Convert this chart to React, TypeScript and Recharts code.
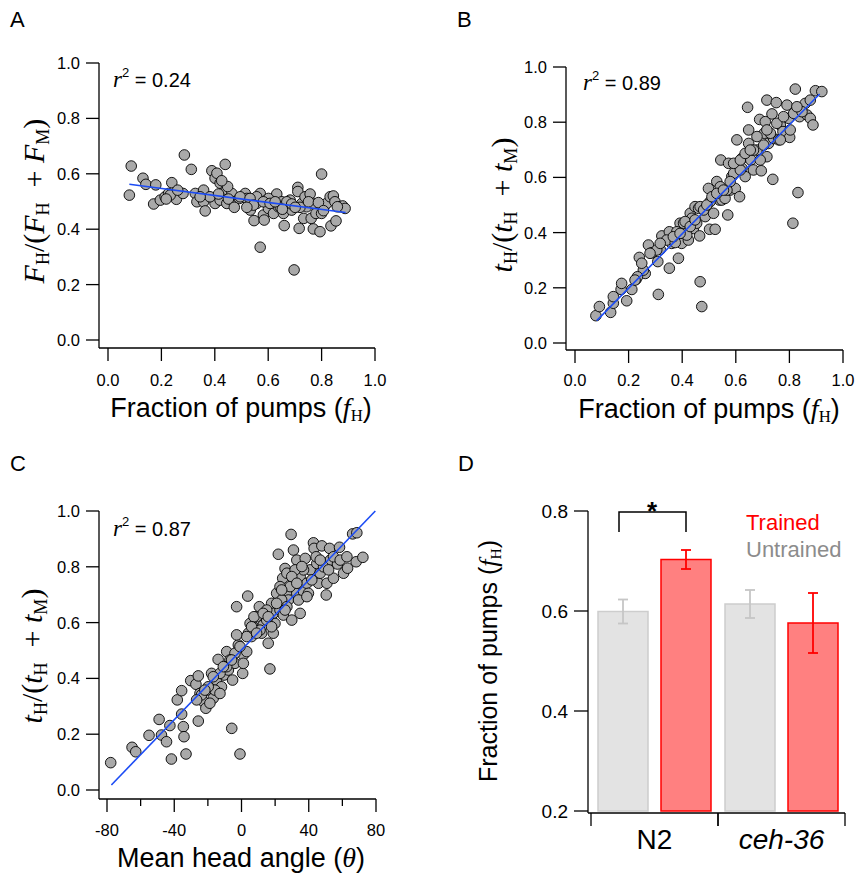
import { ScatterChart, Scatter, XAxis, YAxis, BarChart, Bar, ErrorBar } from "recharts";

const SANS = '"Liberation Sans", Arial, Helvetica, sans-serif';
const SERIF = '"Liberation Serif", "Times New Roman", serif';
const BLUE = "#1c4cf5";
const LW = 1.3;

// ticks
const fracTicks = [0, 0.2, 0.4, 0.6, 0.8, 1.0];
const angleTicks = [-80, -60, -40, -20, 0, 20, 40, 60, 80];
const angleLabels = [-80, -40, 0, 40, 80];
const barTicks = [0.2, 0.4, 0.6, 0.8];

// A: force fraction vs fraction of pumps
const aPumps = [0.087, 0.080, 0.131, 0.142, 0.171, 0.179, 0.196, 0.214, 0.227, 0.239,
  0.256, 0.233, 0.281, 0.286, 0.312, 0.327, 0.333, 0.358, 0.358, 0.364,
  0.389, 0.401, 0.408, 0.420, 0.439, 0.443, 0.401, 0.382, 0.420, 0.445,
  0.464, 0.470, 0.492, 0.514, 0.520, 0.533, 0.547, 0.557, 0.570, 0.570,
  0.582, 0.585, 0.595, 0.601, 0.620, 0.632, 0.638, 0.651, 0.657, 0.660,
  0.670, 0.682, 0.688, 0.697, 0.711, 0.711, 0.716, 0.726, 0.733, 0.738,
  0.744, 0.757, 0.761, 0.769, 0.769, 0.779, 0.794, 0.800, 0.800, 0.813,
  0.819, 0.832, 0.835, 0.844, 0.850, 0.854, 0.869, 0.879, 0.888, 0.557,
  0.601, 0.495, 0.532, 0.545, 0.582, 0.607, 0.645, 0.670, 0.688, 0.719,
  0.751, 0.788, 0.807, 0.859, 0.261, 0.218, 0.345, 0.414, 0.451, 0.473,
  0.520, 0.448, 0.426, 0.626, 0.653, 0.701];
const aForce = [0.628, 0.523, 0.584, 0.562, 0.491, 0.560, 0.505, 0.517, 0.529, 0.568,
  0.508, 0.523, 0.529, 0.668, 0.616, 0.529, 0.499, 0.541, 0.499, 0.466,
  0.611, 0.584, 0.602, 0.566, 0.634, 0.544, 0.493, 0.517, 0.505, 0.493,
  0.529, 0.499, 0.511, 0.529, 0.511, 0.469, 0.431, 0.493, 0.529, 0.335,
  0.451, 0.433, 0.505, 0.475, 0.457, 0.527, 0.481, 0.499, 0.457, 0.413,
  0.481, 0.505, 0.469, 0.253, 0.551, 0.536, 0.403, 0.493, 0.439, 0.517,
  0.481, 0.527, 0.439, 0.401, 0.493, 0.457, 0.391, 0.599, 0.457, 0.487,
  0.493, 0.517, 0.412, 0.520, 0.499, 0.430, 0.481, 0.484, 0.475, 0.517,
  0.511, 0.517, 0.511, 0.487, 0.499, 0.493, 0.481, 0.499, 0.491, 0.479,
  0.499, 0.496, 0.467, 0.481, 0.541, 0.509, 0.517, 0.527, 0.509, 0.479,
  0.479, 0.554, 0.575, 0.499, 0.472, 0.479];
const aFitX = [0.08, 0.89];
const aFitY = [0.562, 0.460];

// B: time fraction vs fraction of pumps
const bPumps = [0.078, 0.091, 0.133, 0.143, 0.172, 0.193, 0.212, 0.228, 0.240, 0.262,
  0.274, 0.287, 0.309, 0.311, 0.324, 0.318, 0.352, 0.352, 0.361, 0.386,
  0.392, 0.398, 0.411, 0.423, 0.430, 0.442, 0.448, 0.465, 0.467, 0.473,
  0.461, 0.486, 0.502, 0.498, 0.517, 0.523, 0.529, 0.539, 0.544, 0.548,
  0.560, 0.570, 0.573, 0.579, 0.585, 0.598, 0.614, 0.604, 0.623, 0.623,
  0.635, 0.644, 0.648, 0.648, 0.656, 0.666, 0.679, 0.689, 0.695, 0.706,
  0.710, 0.716, 0.716, 0.722, 0.735, 0.738, 0.741, 0.751, 0.760, 0.766,
  0.776, 0.791, 0.797, 0.801, 0.803, 0.813, 0.822, 0.832, 0.834, 0.838,
  0.859, 0.866, 0.878, 0.888, 0.897, 0.921, 0.467, 0.436, 0.405, 0.380,
  0.342, 0.305, 0.255, 0.233, 0.224, 0.504, 0.592, 0.617, 0.666, 0.691,
  0.729, 0.766, 0.816, 0.847, 0.878, 0.374, 0.417, 0.454, 0.567, 0.542,
  0.367, 0.392, 0.411, 0.430, 0.448, 0.480, 0.492, 0.511, 0.529, 0.554,
  0.579, 0.592, 0.617, 0.635, 0.654, 0.679, 0.704, 0.716, 0.753, 0.778,
  0.828, 0.249, 0.280, 0.318, 0.174, 0.143];
const bTime = [0.099, 0.132, 0.111, 0.144, 0.194, 0.153, 0.194, 0.231, 0.310, 0.252,
  0.355, 0.327, 0.295, 0.176, 0.388, 0.339, 0.403, 0.271, 0.361, 0.307,
  0.434, 0.361, 0.409, 0.373, 0.470, 0.415, 0.494, 0.388, 0.222, 0.132,
  0.488, 0.458, 0.412, 0.560, 0.470, 0.412, 0.585, 0.518, 0.663, 0.518,
  0.524, 0.464, 0.651, 0.554, 0.603, 0.560, 0.530, 0.736, 0.669, 0.633,
  0.603, 0.854, 0.723, 0.772, 0.663, 0.627, 0.699, 0.810, 0.624, 0.760,
  0.802, 0.675, 0.880, 0.723, 0.830, 0.593, 0.741, 0.871, 0.736, 0.790,
  0.766, 0.862, 0.814, 0.745, 0.772, 0.434, 0.920, 0.545, 0.850, 0.820,
  0.868, 0.826, 0.814, 0.790, 0.914, 0.911, 0.494, 0.452, 0.434, 0.403,
  0.373, 0.337, 0.264, 0.240, 0.228, 0.512, 0.615, 0.627, 0.699, 0.663,
  0.760, 0.736, 0.832, 0.838, 0.880, 0.364, 0.391, 0.434, 0.554, 0.566,
  0.385, 0.397, 0.440, 0.422, 0.446, 0.482, 0.500, 0.530, 0.542, 0.554,
  0.585, 0.651, 0.663, 0.687, 0.699, 0.748, 0.717, 0.772, 0.796, 0.820,
  0.856, 0.289, 0.325, 0.361, 0.216, 0.168];
const bFitX = [0.081, 0.913];
const bFitY = [0.081, 0.902];

// C: time fraction vs mean head angle
const cAngle = [-77.8, -65.1, -62.9, -55.0, -49.0, -47.6, -44.6, -42.6, -41.7, -38.2,
  -35.6, -35.6, -34.6, -34.2, -33.0, -30.2, -27.1, -25.7, -25.7, -24.7,
  -22.7, -21.2, -20.8, -17.8, -16.8, -14.9, -13.9, -11.9, -10.4, -8.8,
  -7.8, -5.8, -5.3, -3.9, -2.9, -1.9, -0.9, 0.7, 1.1, 3.1,
  3.7, 4.1, 5.1, 7.0, 9.0, 10.6, 12.0, 12.9, 15.9, 16.9,
  17.9, 18.9, 19.9, 20.9, 21.9, 22.9, 24.5, 24.9, 25.9, 27.0,
  27.9, 29.5, 29.9, 30.9, 31.3, 32.9, 32.9, 34.9, 34.9, 36.9,
  37.9, 38.9, 40.8, 42.8, 43.2, 45.8, 46.8, 47.8, 50.4, 50.8,
  52.4, 52.8, 54.7, 57.1, 58.3, 60.7, 63.1, 66.1, 68.6, 68.2,
  72.2, 6.0, 11.0, 15.0, 18.9, 23.9, 27.0, 28.9, 33.9, 36.9,
  39.8, 44.8, 48.8, 54.7, 1.1, -3.9, -6.9, -12.8, -15.8, -19.8,
  -23.8, -18.8, -12.8, -8.8, 7.4, 15.0, 22.9, 27.0, 31.9,
  3.1, 6.0, 9.0, 12.9, 15.9, 17.9, 20.9, 23.9, 25.9, 29.9,
  32.9, 35.9, 38.9, 41.8, 44.4, 46.8, 51.8, 58.7, 62.7, -5.9,
  -10.8, -16.8, -21.8, -26.7, -0.9, -2.9];
const cTime = [0.098, 0.153, 0.137, 0.196, 0.253, 0.197, 0.173, 0.231, 0.111, 0.323,
  0.356, 0.272, 0.227, 0.191, 0.129, 0.392, 0.379, 0.409, 0.247, 0.346,
  0.317, 0.293, 0.358, 0.418, 0.329, 0.394, 0.468, 0.370, 0.412, 0.496,
  0.430, 0.221, 0.394, 0.454, 0.657, 0.520, 0.129, 0.418, 0.484, 0.496,
  0.695, 0.562, 0.597, 0.585, 0.621, 0.657, 0.562, 0.591, 0.526, 0.434,
  0.669, 0.633, 0.597, 0.705, 0.845, 0.645, 0.759, 0.627, 0.794, 0.711,
  0.681, 0.916, 0.609, 0.860, 0.753, 0.824, 0.705, 0.633, 0.765, 0.711,
  0.830, 0.741, 0.789, 0.886, 0.866, 0.741, 0.777, 0.875, 0.699, 0.741,
  0.866, 0.824, 0.759, 0.810, 0.870, 0.777, 0.795, 0.918, 0.922, 0.818,
  0.834, 0.550, 0.573, 0.609, 0.562, 0.681, 0.657, 0.729, 0.681, 0.789,
  0.705, 0.812, 0.800, 0.836, 0.454, 0.490, 0.466, 0.418, 0.358, 0.370,
  0.341, 0.311, 0.346, 0.442, 0.621, 0.645, 0.729, 0.777, 0.789,
  0.550, 0.585, 0.562, 0.633, 0.621, 0.585, 0.669, 0.717, 0.645, 0.765,
  0.741, 0.801, 0.693, 0.753, 0.836, 0.824, 0.789, 0.824, 0.836, 0.466,
  0.442, 0.406, 0.358, 0.323, 0.514, 0.556];
const cFitX = [-77.4, 79.6];
const cFitY = [0.018, 1.0];

// D: fraction of pumps by strain
const strains = ["N2", "ceh-36"];
const untrained = [0.599, 0.614];
const untrainedSem = [0.024, 0.028];
const trained = [0.703, 0.576];
const trainedSem = [0.019, 0.060];

const zip = (xs: number[], ys: number[]) => xs.map((x, i) => ({ x, y: ys[i] }));

const Dot = (p: any) => (
  <circle cx={p.cx} cy={p.cy} r={5.3} fill="#a9a9a9" stroke="#000" strokeWidth={0.9} />
);
const NoDot = () => <g />;

const bottomTick = (gap: number, fmt: (v: number) => string, major: (v: number) => boolean = () => true) =>
  (p: any) => {
    const v = p.payload.value;
    const big = major(v);
    return (
      <g>
        <line x1={p.x} x2={p.x} y1={p.y} y2={p.y + (big ? 13 : 7)} stroke="#000" strokeWidth={LW} />
        {big && (
          <text x={p.x} y={p.y + gap} textAnchor="middle" fontSize={16.5} fontFamily={SANS} fill="#000">
            {fmt(v)}
          </text>
        )}
      </g>
    );
  };

const leftTick = (fs: number, len = 13) => (p: any) => (
  <g>
    <line x1={p.x - len} x2={p.x} y1={p.y} y2={p.y} stroke="#000" strokeWidth={LW} />
    <text x={p.x - len - 6} y={p.y + fs * 0.36} textAnchor="end" fontSize={fs} fontFamily={SANS} fill="#000">
      {p.payload.value.toFixed(1)}
    </text>
  </g>
);

const StrainTick = (p: any) => {
  const half = 63.5;
  const name = p.payload.value;
  return (
    <g>
      <line x1={p.x - half} x2={p.x - half} y1={p.y} y2={p.y + 13} stroke="#000" strokeWidth={LW} />
      <line x1={p.x + half} x2={p.x + half} y1={p.y} y2={p.y + 13} stroke="#000" strokeWidth={LW} />
      <text x={p.x} y={p.y + 36} textAnchor="middle" fontSize={28} fontFamily={SANS}
        fontStyle={name === "N2" ? "normal" : "italic"} fill="#000">
        {name}
      </text>
    </g>
  );
};

const axisLine = { stroke: "#000", strokeWidth: LW };
const fmt1 = (v: number) => v.toFixed(1);

function FracScatter(props: {
  left: number; top: number; width: number; height: number; margin: any;
  yWidth: number; xPad: number; yPad: number;
  xs: number[]; ys: number[]; fitX: number[]; fitY: number[];
  xDomain: number[]; xTicks: number[]; xGap: number; xFmt: (v: number) => string; xMajor?: (v: number) => boolean;
}) {
  return (
    <div style={{ position: "absolute", left: props.left, top: props.top }}>
      <ScatterChart width={props.width} height={props.height} margin={props.margin}>
        <XAxis type="number" dataKey="x" domain={props.xDomain} ticks={props.xTicks} interval={0}
          padding={{ left: props.xPad, right: 0 }} height={40} tickLine={false} tickSize={0} tickMargin={0}
          axisLine={axisLine} tick={bottomTick(props.xGap, props.xFmt, props.xMajor)} />
        <YAxis type="number" dataKey="y" domain={[0, 1]} ticks={fracTicks} interval={0}
          padding={{ top: 0, bottom: props.yPad }} width={props.yWidth} tickLine={false} tickSize={0} tickMargin={0}
          axisLine={axisLine} tick={leftTick(16.5)} />
        <Scatter data={zip(props.xs, props.ys)} shape={Dot} isAnimationActive={false} />
        <Scatter data={zip(props.fitX, props.fitY)} shape={NoDot} line={{ stroke: BLUE, strokeWidth: 1.6 }}
          isAnimationActive={false} />
      </ScatterChart>
    </div>
  );
}

function Ratio({ x, y, v }: { x: number; y: number; v: string }) {
  return (
    <text transform={`translate(${x},${y}) rotate(-90)`} textAnchor="middle" fontFamily={SERIF} fontSize={30} fill="#000">
      <tspan fontStyle="italic">{v}</tspan>
      <tspan fontSize={18} dy={5}>H</tspan>
      <tspan dy={-5}>/(</tspan>
      <tspan fontStyle="italic">{v}</tspan>
      <tspan fontSize={18} dy={5}>H</tspan>
      <tspan dy={-5}>{"\u00a0\u00a0+\u00a0"}</tspan>
      <tspan fontStyle="italic">{v}</tspan>
      <tspan fontSize={18} dy={5}>M</tspan>
      <tspan dy={-5}>)</tspan>
    </text>
  );
}

function RSq({ x, y, v }: { x: number; y: number; v: string }) {
  return (
    <text x={x} y={y} fontFamily={SANS} fontSize={20} fill="#000">
      <tspan fontFamily={SERIF} fontStyle="italic" fontSize={23}>r</tspan>
      <tspan fontSize={13} dy={-10}>2</tspan>
      <tspan dy={10}>{"\u00a0= " + v}</tspan>
    </text>
  );
}

function FracTitle({ x, y, rotate, fs }: { x: number; y: number; rotate?: boolean; fs: number }) {
  return (
    <text transform={`translate(${x},${y})${rotate ? " rotate(-90)" : ""}`} textAnchor="middle"
      fontFamily={SANS} fontSize={fs} fill="#000">
      {"Fraction of pumps ("}
      <tspan fontFamily={SERIF} fontStyle="italic" fontSize={fs + 1}>f</tspan>
      <tspan fontFamily={SERIF} fontSize={fs * 0.62} dy={4}>H</tspan>
      <tspan dy={-4}>)</tspan>
    </text>
  );
}

export default function App() {
  const barData = strains.map((s, i) => ({
    strain: s,
    untrained: untrained[i],
    untrainedSem: untrainedSem[i],
    trained: trained[i],
    trainedSem: trainedSem[i],
  }));

  return (
    <div style={{ position: "absolute", left: 0, top: 0, width: 855, height: 879, background: "#fff", fontFamily: SANS }}>
      <FracScatter left={0} top={0} width={400} height={430} margin={{ top: 63, right: 25, bottom: 42, left: 0 }}
        yWidth={99} xPad={9} yPad={8} xs={aPumps} ys={aForce} fitX={aFitX} fitY={aFitY}
        xDomain={[0, 1]} xTicks={fracTicks} xGap={38} xFmt={fmt1} />
      <FracScatter left={440} top={0} width={415} height={430} margin={{ top: 67, right: 12, bottom: 40, left: 0 }}
        yWidth={126} xPad={9} yPad={7} xs={bPumps} ys={bTime} fitX={bFitX} fitY={bFitY}
        xDomain={[0, 1]} xTicks={fracTicks} xGap={36} xFmt={fmt1} />
      <FracScatter left={0} top={440} width={400} height={439} margin={{ top: 71, right: 24, bottom: 40, left: 0 }}
        yWidth={99} xPad={8} yPad={9} xs={cAngle} ys={cTime} fitX={cFitX} fitY={cFitY}
        xDomain={[-80, 80]} xTicks={angleTicks} xGap={37} xFmt={(v) => String(v)}
        xMajor={(v) => angleLabels.includes(v)} />

      <div style={{ position: "absolute", left: 440, top: 440 }}>
        <BarChart width={415} height={439} data={barData} margin={{ top: 71, right: 10, bottom: 26, left: 0 }}
          barGap={13} barCategoryGap={7}>
          <XAxis dataKey="strain" type="category" padding={{ left: 3, right: 0 }} height={40} interval={0}
            tickLine={false} tickSize={0} tickMargin={0} axisLine={axisLine} tick={StrainTick} />
          <YAxis type="number" domain={[0.2, 0.8]} ticks={barTicks} interval={0} padding={{ top: 0, bottom: 2 }}
            width={148} tickLine={false} tickSize={0} tickMargin={0} axisLine={axisLine} tick={leftTick(19, 14)} />
          <Bar dataKey="untrained" barSize={50} fill="#e3e3e3" stroke="#cdcdcd" strokeWidth={1.5} isAnimationActive={false}>
            <ErrorBar dataKey="untrainedSem" direction="y" width={5} stroke="#c6c6c6" strokeWidth={1.8} />
          </Bar>
          <Bar dataKey="trained" barSize={50} fill="#ff8080" stroke="#ff0000" strokeWidth={1.5} isAnimationActive={false}>
            <ErrorBar dataKey="trainedSem" direction="y" width={5} stroke="#ff0000" strokeWidth={1.8} />
          </Bar>
        </BarChart>
      </div>

      <svg width={855} height={879} style={{ position: "absolute", left: 0, top: 0, pointerEvents: "none" }}>
        <g fontFamily={SANS} fontSize={22} fill="#000">
          <text x={10} y={27}>A</text>
          <text x={457} y={27}>B</text>
          <text x={10} y={471}>C</text>
          <text x={458} y={471}>D</text>
        </g>

        <RSq x={113} y={87} v="0.24" />
        <RSq x={583} y={90} v="0.89" />
        <RSq x={113} y={536} v="0.87" />

        <Ratio x={44} y={201} v="F" />
        <Ratio x={512} y={205} v="t" />
        <Ratio x={42} y={656} v="t" />

        <FracTitle x={241} y={417} fs={27} />
        <FracTitle x={709} y={418} fs={27} />
        <FracTitle x={497} y={661} rotate fs={25} />

        <text x={241} y={867} textAnchor="middle" fontFamily={SANS} fontSize={27} fill="#000">
          {"Mean head angle ("}
          <tspan fontFamily={SERIF} fontStyle="italic" fontSize={28}>θ</tspan>
          <tspan>)</tspan>
        </text>

        <path d="M619,532 V512 H686 V532" fill="none" stroke="#000" strokeWidth={1.5} />
        <text x={652} y={520} textAnchor="middle" fontFamily={SANS} fontSize={26} fontWeight="bold" fill="#000">*</text>

        <text x={746} y={530} fontFamily={SANS} fontSize={22} fill="#ff0000">Trained</text>
        <text x={746} y={557} fontFamily={SANS} fontSize={22} fill="#8c8c8c">Untrained</text>
      </svg>
    </div>
  );
}
